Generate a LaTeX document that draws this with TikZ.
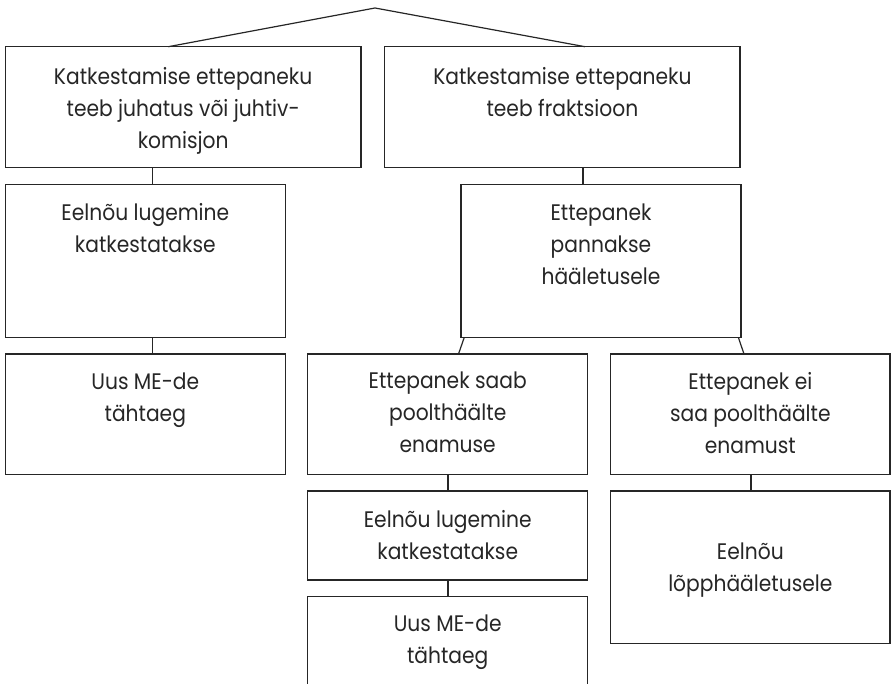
\documentclass[tikz,border=0pt]{standalone}
\usepackage{fontspec}
\setmainfont[FakeStretch=0.9]{Poppins}
\begin{document}
\begin{tikzpicture}[x=1pt,y=-1pt,
  box/.style={draw=black!85,line width=1.2pt,anchor=north west,inner sep=0pt,outer sep=0pt},
  lbl/.style={anchor=north,align=center,inner sep=0pt,text=black!85,font=\fontsize{22.5}{32}\selectfont},
  conn/.style={draw=black!85,line width=1.2pt}]
\useasboundingbox (0,0) rectangle (894,684);
\clip (0,0) rectangle (894,684);
% boxes
\node[box,minimum width=355.7pt,minimum height=121pt] (b1) at (5.3,46.7) {};
\node[box,minimum width=355.2pt,minimum height=121pt] (b2) at (384.8,46.7) {};
\node[box,minimum width=280pt,minimum height=153pt] (b3) at (5.3,184.3) {};
\node[box,minimum width=280pt,minimum height=120.5pt] (b4) at (5.3,354) {};
\node[box,minimum width=280pt,minimum height=153pt] (b5) at (461,184.3) {};
\node[box,minimum width=280pt,minimum height=120.7pt] (b6) at (307.7,354) {};
\node[box,minimum width=279.3pt,minimum height=120.7pt] (b7) at (610.7,354) {};
\node[box,minimum width=280pt,minimum height=89pt] (b8) at (307.7,491) {};
\node[box,minimum width=280pt,minimum height=120pt] (b9) at (307.7,596.7) {};
\node[box,minimum width=279.3pt,minimum height=152.3pt] (b10) at (610.7,491) {};
% texts
\node[lbl] (t1) at ([yshift=-20pt]b1.north) {Katkestamise ettepaneku\\teeb juhatus või juhtiv-\\komisjon};
\node[lbl] (t2) at ([yshift=-20pt]b2.north) {Katkestamise ettepaneku\\teeb fraktsioon};
\node[lbl] (t3) at ([yshift=-19pt]b3.north) {Eelnõu lugemine\\katkestatakse};
\node[lbl] (t4) at ([yshift=-19pt]b4.north) {Uus ME-de\\tähtaeg};
\node[lbl] (t5) at ([yshift=-19pt]b5.north) {Ettepanek\\pannakse\\hääletusele};
\node[lbl] (t6) at ([yshift=-18pt]b6.north) {Ettepanek saab\\poolthäälte\\enamuse};
\node[lbl] (t7) at ([yshift=-18pt]b7.north) {Ettepanek ei\\saa poolthäälte\\enamust};
\node[lbl] (t8) at ([yshift=-19pt]b8.north) {Eelnõu lugemine\\katkestatakse};
\node[lbl] (t9) at ([yshift=-18pt]b9.north) {Uus ME-de\\tähtaeg};
\node[lbl,anchor=center] (t10) at ([yshift=-3pt]b10.center) {Eelnõu\\lõpphääletusele};
% connectors
\coordinate (apex) at (375,8);
\draw[conn] (b1.north west -| 168.3,0) -- (apex) -- (b2.north west -| 585,0);
\draw[conn] (b1.south west -| 152.3,0) -- (b3.north west -| 152.3,0);
\draw[conn] (b3.south west -| 152.3,0) -- (b4.north west -| 152.3,0);
\draw[conn] (b2.south west -| 583,0) -- (b5.north west -| 583,0);
\draw[conn] (b5.south west -| 464.3,0) -- (b6.north west -| 458.5,0);
\draw[conn] (b5.south west -| 738.3,0) -- (b7.north west -| 744,0);
\draw[conn] (b6.south west -| 448,0) -- (b8.north west -| 448,0);
\draw[conn] (b8.south west -| 448,0) -- (b9.north west -| 448,0);
\draw[conn] (b7.south west -| 751,0) -- (b10.north west -| 751,0);
\end{tikzpicture}
\end{document}
